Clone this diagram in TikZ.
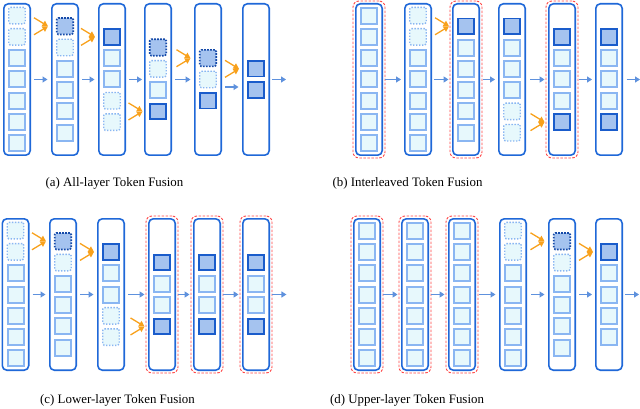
\documentclass[tikz,border=0pt]{standalone}
\usepackage{fontspec}
\setmainfont{Liberation Serif}
\usetikzlibrary{arrows.meta,fit,calc}
\definecolor{colb}{HTML}{1F68D8}
\definecolor{tokLb}{HTML}{8AB6F2}
\definecolor{tokLf}{HTML}{E7F8FC}
\definecolor{tokDf}{HTML}{A5C3EF}
\definecolor{tokDb}{HTML}{1A5CCB}
\definecolor{tokdb}{HTML}{1449A8}
\definecolor{arrb}{HTML}{5E91DD}
\definecolor{arro}{HTML}{F8A11C}
\definecolor{redd}{HTML}{FF4545}
\tikzset{
 colbox/.style={draw=colb, line width=1.6pt, rounded corners=4.5pt, minimum width=26.4pt, minimum height=151.4pt, inner sep=0pt, fill=white},
 tokL/.style={draw=tokLb, fill=tokLf, line width=2pt, minimum size=16pt, inner sep=0pt},
 tokD/.style={draw=tokDb, fill=tokDf, line width=1.8pt, minimum size=15.5pt, inner sep=0pt},
 tokl/.style={draw=tokLb, fill=tokLf, line width=1.4pt, dash pattern=on 1.4pt off 1.6pt, minimum size=16.5pt, inner sep=0pt, rounded corners=1.5pt},
 tokd/.style={draw=tokdb, fill=tokDf, line width=1.6pt, dash pattern=on 1.6pt off 1.4pt, minimum size=16.5pt, inner sep=0pt, rounded corners=1.5pt},
 redbox/.style={draw=redd, line width=0.9pt, dash pattern=on 2.5pt off 1.5pt, rounded corners=6pt, inner sep=2pt},
 barrow/.style={draw=arrb, line width=1.3pt, -{Triangle[length=5pt,width=6pt]}},
 oarrow/.style={draw=arro, line width=1.3pt, -{Triangle[length=5.5pt,width=6pt]}},
 captext/.style={font=\fontsize{12.9pt}{15pt}\selectfont, inner sep=0pt}
}
% name, xleft, ytop, n, list
\newcommand{\mkcol}[5]{%
  \node[colbox] (#1) at ({#2+14},{#3+76.5}) {};
  \foreach \t [count=\i] in {#5} {
    \node[tok\t] (#1-\i) at ({#2+14},{#3+76.5+(\i-1-(#4-1)/2)*21.3}) {};
  }%
}
\newcommand{\redfit}[1]{\node[redbox, fit=(#1)] (#1r) {};}
\newcommand{\barr}[4]{\draw[barrow, shorten <=#3, shorten >=#4] (#1.east) -- (#2.west);}
% name, box, token, gap
\newcommand{\fuse}[4]{%
  \coordinate (#1-t) at (#2.west |- #3.center);
  \coordinate (#1-e) at ([xshift=-#4]#1-t);
  \coordinate (#1-u) at ([xshift=-14pt,yshift=8.5pt]#1-e);
  \coordinate (#1-d) at ([xshift=-14pt,yshift=-8.5pt]#1-e);
  \draw[oarrow] (#1-u) -- (#1-e);
  \draw[oarrow] (#1-d) -- (#1-e);
}
\begin{document}
\begin{tikzpicture}[x=1pt,y=-1pt]
\useasboundingbox (0,0) rectangle (640,409);
% ---------- (a)
\mkcol{a1}{3}{3}{7}{l,l,L,L,L,L,L}
\mkcol{a2}{51}{3}{6}{d,l,L,L,L,L}
\mkcol{a3}{98}{3}{5}{D,L,L,l,l}
\mkcol{a4}{144}{3}{4}{d,l,L,D}
\mkcol{a5}{194}{3}{3}{d,l,D}
\mkcol{a6}{242}{3}{2}{D,D}
\barr{a1}{a2}{3pt}{3.5pt}
\barr{a2}{a3}{3pt}{3.5pt}
\barr{a3}{a4}{3pt}{2pt}
\barr{a4}{a5}{3pt}{3.5pt}
\draw[barrow, shorten <=3pt, shorten >=3.5pt] ([yshift=-7.5pt]a5.east) -- ([yshift=-7.5pt]a6.west);
\coordinate (aout) at ([xshift=16pt]a6.east);
\draw[barrow, shorten <=2pt] (a6.east) -- (aout);
\fuse{fa1}{a2}{a2-1}{3pt}
\fuse{fa2}{a3}{a3-1}{3pt}
\fuse{fa3}{a4}{a4-4}{1.5pt}
\fuse{fa4}{a5}{a5-1}{3.5pt}
\fuse{fa5}{a6}{a6-1}{3pt}
% ---------- (b)
\mkcol{b1}{355}{3}{7}{L,L,L,L,L,L,L}
\mkcol{b2}{404}{3}{7}{l,l,L,L,L,L,L}
\mkcol{b3}{452}{3}{6}{D,L,L,L,L,L}
\mkcol{b4}{498}{3}{6}{D,L,L,L,l,l}
\mkcol{b5}{548}{3}{5}{D,L,L,L,D}
\mkcol{b6}{595}{3}{5}{D,L,L,L,D}
\redfit{b1}\redfit{b3}\redfit{b5}
\barr{b1r}{b2}{0pt}{3pt}
\barr{b2}{b3r}{2pt}{1pt}
\barr{b3r}{b4}{0.5pt}{3pt}
\barr{b4}{b5r}{4pt}{1pt}
\barr{b5r}{b6}{1pt}{3pt}
\coordinate (bout) at ([xshift=17pt]b6.east);
\draw[barrow, shorten <=3.5pt] (b6.east) -- (bout);
\fuse{fb1}{b3r}{b3-1}{0.5pt}
\fuse{fb2}{b5r}{b5-5}{1pt}
% ---------- (c)
\mkcol{c1}{1.5}{218}{7}{l,l,L,L,L,L,L}
\mkcol{c2}{49}{218}{6}{d,l,L,L,L,L}
\mkcol{c3}{97}{218}{5}{D,L,L,l,l}
\mkcol{c4}{148}{218}{4}{D,L,L,D}
\mkcol{c5}{193}{218}{4}{D,L,L,D}
\mkcol{c6}{242}{218}{4}{D,L,L,D}
\redfit{c4}\redfit{c5}\redfit{c6}
\barr{c1}{c2}{3pt}{3.5pt}
\barr{c2}{c3}{3pt}{3.5pt}
\barr{c3}{c4r}{3pt}{1pt}
\barr{c4r}{c5r}{0pt}{1pt}
\barr{c5r}{c6r}{0pt}{1pt}
\coordinate (cout) at ([xshift=14pt]c6r.east);
\draw[barrow] (c6r.east) -- (cout);
\fuse{fc1}{c2}{c2-1}{3pt}
\fuse{fc2}{c3}{c3-1}{3pt}
\fuse{fc3}{c4r}{c4-4}{1pt}
% ---------- (d)
\mkcol{d1}{353}{218}{7}{L,L,L,L,L,L,L}
\mkcol{d2}{401}{218}{7}{L,L,L,L,L,L,L}
\mkcol{d3}{448}{218}{7}{L,L,L,L,L,L,L}
\mkcol{d4}{499}{218}{7}{l,l,L,L,L,L,L}
\mkcol{d5}{548}{218}{6}{d,l,L,L,L,L}
\mkcol{d6}{595}{218}{5}{D,L,L,L,L}
\redfit{d1}\redfit{d2}\redfit{d3}
\barr{d1r}{d2r}{0pt}{1pt}
\barr{d2r}{d3r}{0pt}{1pt}
\barr{d3r}{d4}{0.5pt}{3.5pt}
\barr{d4}{d5}{4pt}{3.5pt}
\barr{d5}{d6}{3pt}{3pt}
\coordinate (dout) at ([xshift=16pt]d6.east);
\draw[barrow, shorten <=2pt] (d6.east) -- (dout);
\fuse{fd1}{d5}{d5-1}{3.5pt}
\fuse{fd2}{d6}{d6-1}{2pt}
% ---------- captions
\node[captext] (capa) at (114.5,183.5) {(a) All-layer Token Fusion};
\node[captext] (capb) at (407.5,183.5) {(b) Interleaved Token Fusion};
\node[captext] (capc) at (117.5,400.5) {(c) Lower-layer Token Fusion};
\node[captext] (capd) at (407,400.5) {(d) Upper-layer Token Fusion};
\end{tikzpicture}
\end{document}
